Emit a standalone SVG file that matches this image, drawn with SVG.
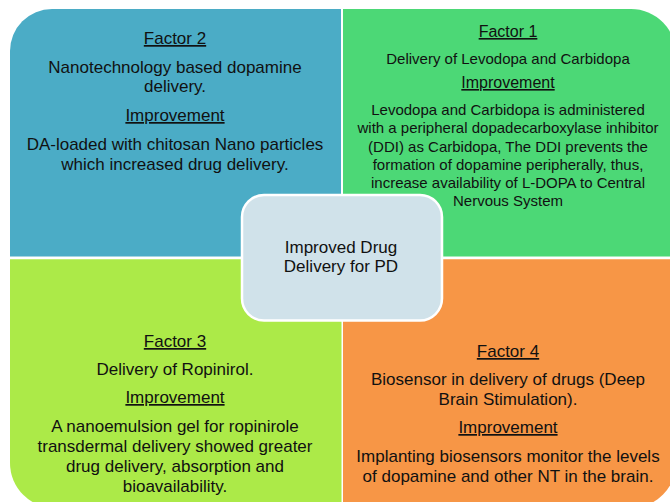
<svg xmlns="http://www.w3.org/2000/svg" width="670" height="502" viewBox="0 0 670 502">
<style>
text{font-family:"Liberation Sans",Arial,sans-serif;fill:#111;text-anchor:middle}
.t17{font-size:17px}
.t16{font-size:16px}
.t15{font-size:15px}
.u{text-decoration:underline}
.ctr{fill:#d0e2ea;stroke:#fff;stroke-width:2.5}
</style>
<rect width="670" height="502" fill="#fff"/>
<g id="factor2">
<path d="M10,256.5 L10,51 A42,42 0 0 1 52,9 L341,9 L341,256.5 Z" fill="#4bacc6"/>
<text class="t17 u" x="175" y="44">Factor 2</text>
<text class="t17" x="175" y="73">Nanotechnology based dopamine</text>
<text class="t17" x="175" y="92">delivery.</text>
<text class="t17 u" x="175" y="121">Improvement</text>
<text class="t17" x="175" y="150">DA-loaded with chitosan Nano particles</text>
<text class="t17" x="175" y="170">which increased drug delivery.</text>
</g>
<g id="factor1">
<path d="M343,9 L631,9 A45,45 0 0 1 676,54 L676,256.5 L343,256.5 Z" fill="#4cd876"/>
<text class="t16 u" x="508" y="37">Factor 1</text>
<text class="t15" x="508" y="64">Delivery of Levodopa and Carbidopa</text>
<text class="t16 u" x="508" y="88">Improvement</text>
<text class="t15" x="508" y="115">Levodopa and Carbidopa  is administered</text>
<text class="t15" x="508" y="133">with a peripheral dopadecarboxylase inhibitor</text>
<text class="t15" x="508" y="152">(DDI) as Carbidopa, The DDI prevents the</text>
<text class="t15" x="508" y="170">formation of dopamine peripherally, thus,</text>
<text class="t15" x="508" y="188">increase availability of L-DOPA to Central</text>
<text class="t15" x="508" y="206">Nervous System</text>
</g>
<g id="factor3">
<path d="M10,259.3 L341.5,259.3 L341.5,508 L55,508 A45,45 0 0 1 10,463 Z" fill="#acea48"/>
<text class="t17 u" x="175" y="347">Factor 3</text>
<text class="t17" x="175" y="375">Delivery of Ropinirol.</text>
<text class="t17 u" x="175" y="403">Improvement</text>
<text class="t17" x="175" y="432">A nanoemulsion gel for ropinirole</text>
<text class="t17" x="175" y="452">transdermal delivery showed greater</text>
<text class="t17" x="175" y="472">drug delivery, absorption and</text>
<text class="t17" x="175" y="492">bioavailability.</text>
</g>
<g id="factor4">
<path d="M343,259.3 L676,259.3 L676,463 A45,45 0 0 1 631,508 L343,508 Z" fill="#f79646"/>
<text class="t17 u" x="508" y="357">Factor 4</text>
<text class="t17" x="508" y="385">Biosensor in delivery of drugs (Deep</text>
<text class="t17" x="508" y="405">Brain Stimulation).</text>
<text class="t17 u" x="508" y="433">Improvement</text>
<text class="t17" x="508" y="462">Implanting biosensors monitor the levels</text>
<text class="t17" x="508" y="482">of dopamine and other NT in the brain.</text>
</g>
<g id="center">
<rect class="ctr" x="242" y="195" width="200" height="125.5" rx="22" ry="22"/>
<text class="t17" x="341" y="253">Improved Drug</text>
<text class="t17" x="341" y="272">Delivery for PD</text>
</g>
<g id="connectors"/>
</svg>
